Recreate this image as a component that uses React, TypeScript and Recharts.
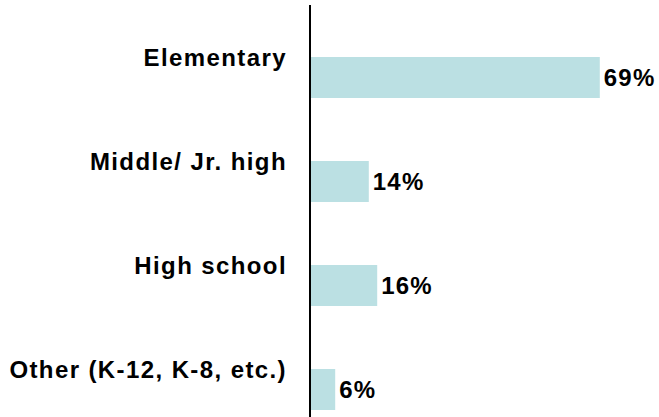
import React from "react";
import { BarChart, Bar, XAxis, YAxis, LabelList } from "recharts";

const categories = ["Elementary", "Middle/ Jr. high", "High school", "Other (K-12, K-8, etc.)"];
const values = [69, 14, 16, 6];

const data = categories.map((c, i) => ({ name: c, value: values[i] }));

const FONT = "'Liberation Sans', Arial, sans-serif";

const CatTick = (props: any) => {
  const { x, y, payload } = props;
  return (
    <text
      x={x - 15}
      y={y - 11.5}
      textAnchor="end"
      fontFamily={FONT}
      fontWeight="bold"
      fontSize={24}
      letterSpacing={1.4}
      fill="#000"
    >
      {payload.value}
    </text>
  );
};

export default function App() {
  return (
    <div style={{ position: "absolute", left: 0, top: 0, background: "#fff" }}>
      <BarChart
        width={659}
        height={460}
        data={data}
        layout="vertical"
        margin={{ top: 5, right: 13, bottom: 19, left: 0 }}
        barCategoryGap={0}
      >
        <XAxis type="number" domain={[0, 80]} hide />
        <YAxis
          type="category"
          dataKey="name"
          width={310}
          axisLine={{ stroke: "#000", strokeWidth: 2 }}
          tickLine={false}
          tick={<CatTick />}
          padding={{ top: 20, bottom: 0 }}
          interval={0}
        />
        <Bar dataKey="value" fill="#BBE0E3" barSize={41} isAnimationActive={false}>
          <LabelList
            dataKey="value"
            position="right"
            offset={4}
            formatter={(v: any) => `${v}%`}
            style={{ fontFamily: FONT, fontWeight: "bold", fontSize: 24, letterSpacing: 1.2, fill: "#000" }}
          />
        </Bar>
      </BarChart>
    </div>
  );
}
